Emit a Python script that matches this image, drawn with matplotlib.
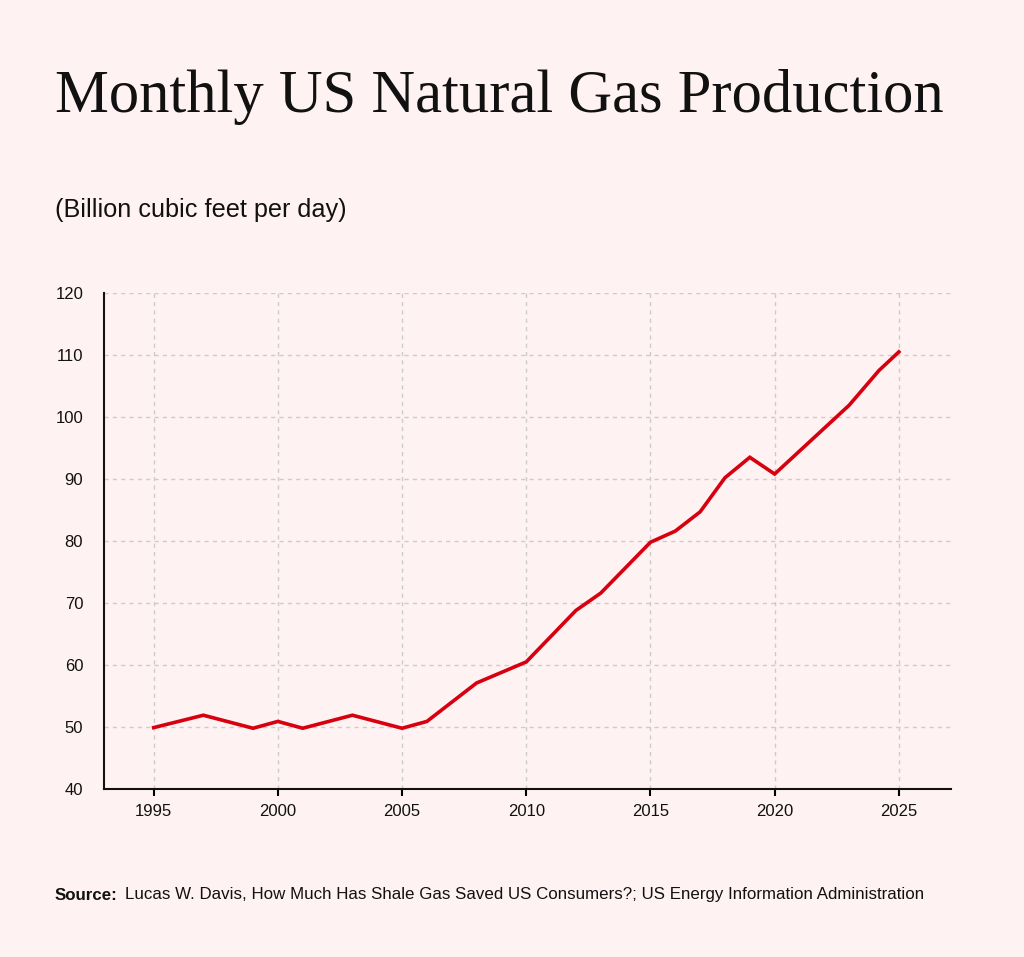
import matplotlib
matplotlib.use("Agg")
import matplotlib.pyplot as plt

years = [1995, 1997, 1999, 2000, 2001, 2003, 2005, 2006, 2008, 2010, 2012, 2013,
         2015, 2016, 2017, 2018, 2019, 2020, 2023, 2024.2, 2025]
production = [49.9, 51.9, 49.8, 50.9, 49.8, 51.9, 49.8, 50.9, 57.1, 60.5, 68.8, 71.6,
              79.8, 81.6, 84.7, 90.2, 93.5, 90.8, 101.9, 107.5, 110.5]
x_ticks = [1995, 2000, 2005, 2010, 2015, 2020, 2025]
y_ticks = [40, 50, 60, 70, 80, 90, 100, 110, 120]

bg = "#FFF2F2"
plt.rcParams['font.family'] = ['Liberation Sans', 'DejaVu Sans']

fig = plt.figure(figsize=(10.24, 9.57), dpi=100, facecolor=bg)
ax = fig.add_axes([104/1024, 1-789/957, (951-104)/1024, (789-293)/957])
ax.set_facecolor(bg)

ax.plot(years, production, color="#D7000F", lw=2.6, solid_joinstyle="miter", zorder=3)

ax.set_xlim(1993, 2027.1)
ax.set_ylim(40, 120)
ax.set_xticks(x_ticks)
ax.set_yticks(y_ticks)
ax.grid(True, color="#CCCCCC", linestyle=(0, (3, 3)), linewidth=1.0)
for s in ["top", "right"]:
    ax.spines[s].set_visible(False)
for s in ["left", "bottom"]:
    ax.spines[s].set_linewidth(1.5)
    ax.spines[s].set_color("#111111")
ax.tick_params(axis="y", length=0, pad=15, labelsize=12, labelcolor="#111111")
ax.tick_params(axis="x", length=5, width=1.5, pad=6, labelsize=12, labelcolor="#111111")

fig.text(55/1024, 1-97/957, "Monthly US Natural Gas Production",
         family=["Liberation Serif", "DejaVu Serif"], fontsize=43.7, va="center", ha="left", color="#111111")
fig.text(55/1024, 1-210/957, "(Billion cubic feet per day)", fontsize=18.2,
         va="center", ha="left", color="#111111")
fig.text(55/1024, 1-895/957, "Source:", fontsize=12.2, fontweight="bold",
         va="center", ha="left", color="#111111")
fig.text(125/1024, 1-895/957,
         "Lucas W. Davis, How Much Has Shale Gas Saved US Consumers?; US Energy Information Administration",
         fontsize=12.2, va="center", ha="left", color="#111111")

fig.savefig("out.png", dpi=100, facecolor=bg)
